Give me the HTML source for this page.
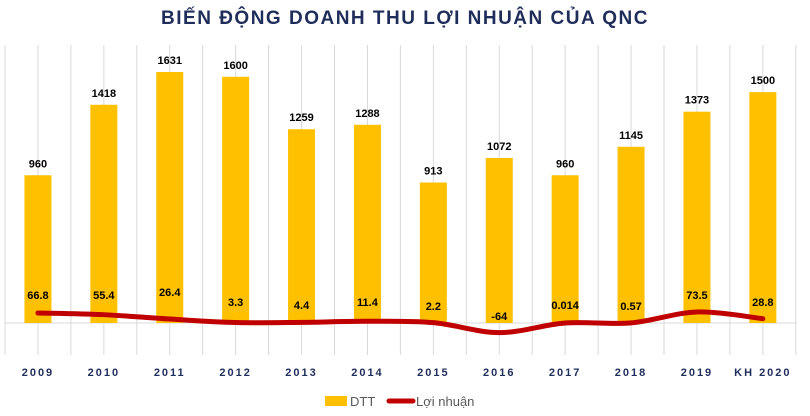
<!DOCTYPE html>
<html><head><meta charset="utf-8"><style>
body{margin:0;background:#fff;width:810px;height:411px;overflow:hidden;font-family:"Liberation Sans",sans-serif}
</style></head><body>
<svg id="s" width="810" height="411" xmlns="http://www.w3.org/2000/svg" font-family="Liberation Sans, sans-serif">
<text x="405" y="24" text-anchor="middle" font-size="19" font-weight="bold" fill="#1f2d5a" letter-spacing="1.5">BIẾN ĐỘNG DOANH THU LỢI NHUẬN CỦA QNC</text>
<g id="g"></g>
<rect x="325" y="396" width="22" height="10" fill="#ffc000"/>
<text x="350" y="406" font-size="13" fill="#595959">DTT</text>
<line x1="389" y1="401" x2="413" y2="401" stroke="#c00000" stroke-width="5" stroke-linecap="round"/>
<text x="416" y="406" font-size="13" fill="#595959">Lợi nhuận</text>
</svg>
<script>
var g=document.getElementById('g'),h='';
var yrs=['2009','2010','2011','2012','2013','2014','2015','2016','2017','2018','2019','KH 2020'];
var d=[960,1418,1631,1600,1259,1288,913,1072,960,1145,1373,1500];
var p=[66.8,55.4,26.4,3.3,4.4,11.4,2.2,-64,0.014,0.57,73.5,28.8];
var pl=['66.8','55.4','26.4','3.3','4.4','11.4','2.2','-64','0.014','0.57','73.5','28.8'];
var ly=[299,299,296,306,309,306,310,320,309,310,299,306];
var base=323,k=0.1539,w=65.9,x0=5;
for(var i=0;i<=24;i++){var x=x0+i*w/2;h+='<line x1="'+x+'" y1="45" x2="'+x+'" y2="355" stroke="#d9d9d9" stroke-width="1"/>';}
h+='<line x1="5" y1="'+base+'" x2="797" y2="'+base+'" stroke="#d9d9d9"/>';
var pts=[];
for(var i=0;i<12;i++){var c=x0+w/2+i*w,t=base-d[i]*k;
h+='<rect x="'+(c-13.5)+'" y="'+t+'" width="27" height="'+(base-t)+'" fill="#ffc000"/>';
h+='<text x="'+c+'" y="'+(t-8)+'" text-anchor="middle" font-size="11" font-weight="bold" fill="#000">'+d[i]+'</text>';
h+='<text x="'+c+'" y="376" text-anchor="middle" font-size="11" font-weight="bold" fill="#1f2d5a" letter-spacing="2">'+yrs[i]+'</text>';
pts.push([c,base-p[i]*0.15]);}
var path='M'+pts[0][0]+','+pts[0][1];
for(var i=0;i<11;i++){var a=pts[i-1]||pts[i],b=pts[i],c=pts[i+1],e=pts[i+2]||c;
path+=' C'+(b[0]+(c[0]-a[0])/6)+','+(b[1]+(c[1]-a[1])/6)+' '+(c[0]-(e[0]-b[0])/6)+','+(c[1]-(e[1]-b[1])/6)+' '+c[0]+','+c[1];}
h+='<path d="'+path+'" fill="none" stroke="#c00000" stroke-width="5" stroke-linecap="round"/>';
for(var i=0;i<12;i++){h+='<text x="'+pts[i][0]+'" y="'+ly[i]+'" text-anchor="middle" font-size="11" font-weight="bold" fill="#000">'+pl[i]+'</text>';}
g.innerHTML=h;
</script>
</body></html>
